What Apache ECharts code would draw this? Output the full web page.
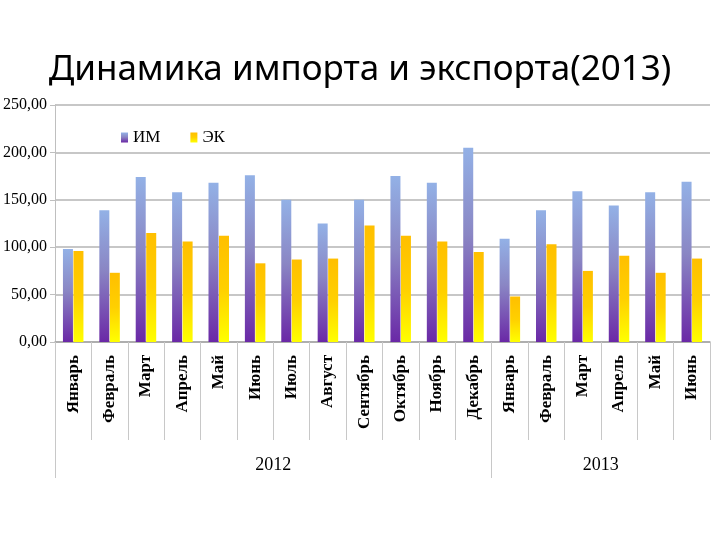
<!DOCTYPE html>
<html>
<head>
<meta charset="utf-8">
<script src="https://cdn.jsdelivr.net/npm/echarts@6/dist/echarts.min.js"></script>
<style>html,body{margin:0;padding:0;background:#fff;}#c{width:720px;height:540px;}</style>
</head>
<body>
<div id="c"></div>
<script>
var months = ['Январь','Февраль','Март','Апрель','Май','Июнь','Июль','Август','Сентябрь','Октябрь','Ноябрь','Декабрь','Январь','Февраль','Март','Апрель','Май','Июнь'];
var years = ['2012','2013'];
var yearMonthCounts = [12, 6];
var imports = [98, 139, 174, 158, 168, 176, 150, 125, 150, 175, 168, 205, 109, 139, 159, 144, 158, 169];
var exports = [96, 73, 115, 106, 112, 83, 87, 88, 123, 112, 106, 95, 48, 103, 75, 91, 73, 88];
var seriesNames = ['ИМ','ЭК'];
var yTicks = {min: 0, max: 250, interval: 50};

// build year axis: points at category boundaries (0..N), label at group centers
var yearAxisData = [];
for (var i = 0; i <= months.length; i++) yearAxisData.push('');
var boundaries = [0];
var acc = 0;
for (var k = 0; k < years.length; k++) {
  yearAxisData[acc + yearMonthCounts[k] / 2] = years[k];
  acc += yearMonthCounts[k];
  boundaries.push(acc);
}
var yearTickIdx = boundaries.slice(0, boundaries.length - 1);

var chart = echarts.init(document.getElementById('c'));
var serif = 'Liberation Serif';
chart.setOption({
  animation: false,
  title: {
    text: 'Динамика импорта и экспорта(2013)',
    left: 'center',
    top: 48,
    textStyle: {fontFamily: 'Noto Sans', fontSize: 35, fontWeight: 'normal', color: '#000'}
  },
  legend: {
    left: 116, top: 124,
    itemWidth: 7, itemHeight: 10, itemGap: 30,
    icon: 'rect',
    textStyle: {fontFamily: serif, fontSize: 17, color: '#000'},
    data: seriesNames
  },
  grid: {left: 52, right: 10, top: 105, bottom: 198},
  xAxis: [{
    type: 'category',
    data: months,
    axisLine: {lineStyle: {color: '#a6a6a6', width: 1.5}},
    axisTick: {show: true, interval: function (idx) { return idx < months.length; }, length: 98, lineStyle: {color: '#c8c8c8', width: 1}},
    axisLabel: {interval: 0, rotate: 90, margin: 13, fontFamily: serif, fontSize: 17, fontWeight: 'bold', color: '#000'}
  }, {
    type: 'category',
    data: yearAxisData,
    boundaryGap: false,
    position: 'bottom',
    axisLine: {show: false},
    axisTick: {
      show: true, length: 136,
      interval: function (idx) { return yearTickIdx.indexOf(idx) >= 0; },
      lineStyle: {color: '#c8c8c8', width: 1}
    },
    axisLabel: {interval: 0, margin: 114, fontFamily: serif, fontSize: 18, color: '#000'}
  }],
  yAxis: {
    type: 'value',
    min: yTicks.min, max: yTicks.max, interval: yTicks.interval,
    axisLine: {show: true, lineStyle: {color: '#bfbfbf', width: 1}},
    axisTick: {show: true, length: 5, lineStyle: {color: '#bfbfbf'}},
    splitLine: {lineStyle: {color: '#b5b5b5', width: 1.5}},
    axisLabel: {
      margin: 8, fontFamily: serif, fontSize: 16, color: '#000',
      formatter: function (v) { return v.toFixed(2).replace('.', ','); }
    }
  },
  series: [{
    name: seriesNames[0],
    type: 'bar',
    data: imports,
    barWidth: 10,
    barGap: '5%',
    itemStyle: {color: new echarts.graphic.LinearGradient(0, 0, 0, 1, [
      {offset: 0, color: '#93b1e6'},
      {offset: 0.45, color: '#8a86c4'},
      {offset: 1, color: '#6a28a6'}
    ])}
  }, {
    name: seriesNames[1],
    type: 'bar',
    data: exports,
    barWidth: 10,
    itemStyle: {color: new echarts.graphic.LinearGradient(0, 0, 0, 1, [
      {offset: 0, color: '#ffbf00'},
      {offset: 0.5, color: '#ffd000'},
      {offset: 1, color: '#ffff00'}
    ])}
  }]
});
</script>
</body>
</html>
